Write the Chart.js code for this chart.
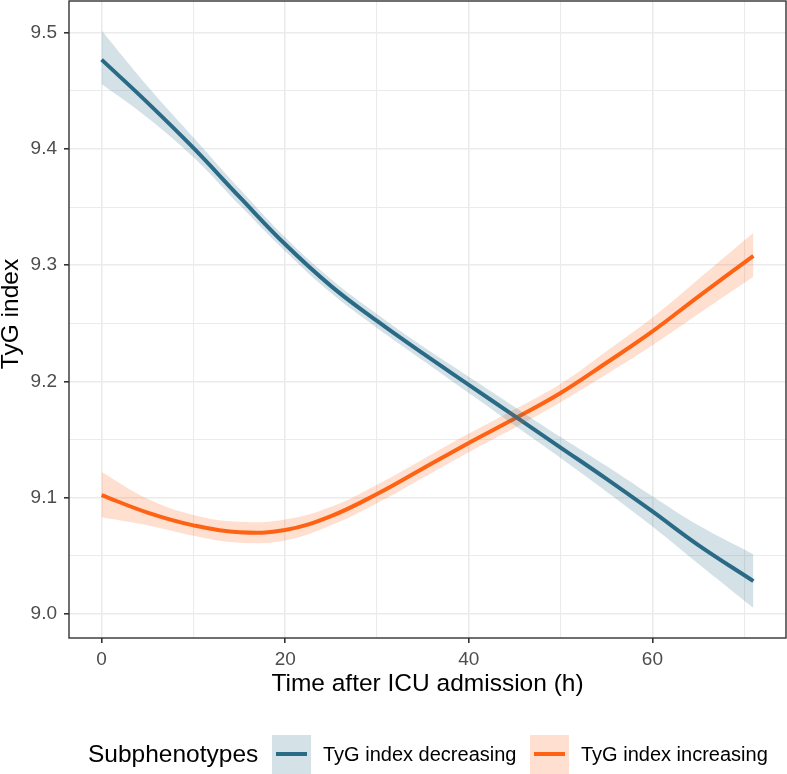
<!DOCTYPE html>
<html>
<head>
<meta charset="utf-8">
<script src="https://cdn.jsdelivr.net/npm/chart.js@4"></script>
<style>
  body { margin: 0; background: #fff; }
  #wrap { width: 787px; height: 774px; }
</style>
</head>
<body>
<div id="wrap"><canvas id="tygChart" width="787" height="774"></canvas></div>
<script>
// data
var hours = [0, 5, 10, 15, 20, 25, 30, 35, 40, 45, 50, 55, 60, 65, 71];

var decFit   = [9.477, 9.440, 9.401, 9.359, 9.318, 9.282, 9.252, 9.224, 9.197, 9.170, 9.143, 9.116, 9.088, 9.059, 9.028];
var decLower = [9.456, 9.427, 9.393, 9.352, 9.312, 9.276, 9.246, 9.218, 9.190, 9.162, 9.134, 9.105, 9.075, 9.043, 9.005];
var decUpper = [9.502, 9.454, 9.410, 9.366, 9.324, 9.288, 9.258, 9.230, 9.204, 9.178, 9.152, 9.127, 9.101, 9.076, 9.051];

var incFit   = [9.102, 9.087, 9.076, 9.070, 9.072, 9.084, 9.103, 9.125, 9.147, 9.168, 9.190, 9.216, 9.243, 9.273, 9.308];
var incLower = [9.083, 9.076, 9.067, 9.061, 9.063, 9.076, 9.095, 9.117, 9.139, 9.160, 9.182, 9.206, 9.231, 9.258, 9.290];
var incUpper = [9.122, 9.099, 9.085, 9.079, 9.081, 9.092, 9.111, 9.133, 9.155, 9.176, 9.198, 9.226, 9.255, 9.288, 9.328];

var xTicks = [0, 10, 20, 30, 40, 50, 60, 70];
var yTicks = [9.0, 9.05, 9.1, 9.15, 9.2, 9.25, 9.3, 9.35, 9.4, 9.45, 9.5];
var xMajor = [0, 20, 40, 60];
var yMajor = [9.0, 9.1, 9.2, 9.3, 9.4, 9.5];

var blue = '#2a6b87';
var orange = '#ff6213';
var blueBand = 'rgba(42,107,135,0.2)';
var orangeBand = 'rgba(255,98,19,0.2)';
var fontFam = '"Liberation Sans", Arial, sans-serif';

function pts(ys) {
    return hours.map(function(h, i){ return {x: h, y: ys[i]}; });
}
function isMajor(list, v) {
    return list.some(function(m){ return Math.abs(m - v) < 1e-6; });
}

var lineOpts = { pointRadius: 0, tension: 0.4 };

var datasets = [
    Object.assign({ label: 'decLower', data: pts(decLower), borderWidth: 0, borderColor: 'transparent', fill: false }, lineOpts),
    Object.assign({ label: 'decUpper', data: pts(decUpper), borderWidth: 0, borderColor: 'transparent', backgroundColor: blueBand, fill: '-1' }, lineOpts),
    Object.assign({ label: 'incLower', data: pts(incLower), borderWidth: 0, borderColor: 'transparent', fill: false }, lineOpts),
    Object.assign({ label: 'incUpper', data: pts(incUpper), borderWidth: 0, borderColor: 'transparent', backgroundColor: orangeBand, fill: '-1' }, lineOpts),
    Object.assign({ label: 'TyG index decreasing', data: pts(decFit), borderWidth: 4, borderColor: blue, fill: false }, lineOpts),
    Object.assign({ label: 'TyG index increasing', data: pts(incFit), borderWidth: 4, borderColor: orange, fill: false }, lineOpts)
];

// panel border, axis titles and the legend row
var decorations = {
    id: 'decorations',
    afterDraw: function(chart) {
        var c = chart.ctx, a = chart.chartArea;
        c.save();
        c.strokeStyle = '#333333';
        c.lineWidth = 1.4;
        c.strokeRect(a.left, a.top, a.right - a.left, a.bottom - a.top);

        c.fillStyle = '#000';
        c.font = '24.5px ' + fontFam;
        c.textAlign = 'center';
        c.textBaseline = 'middle';
        c.fillText('Time after ICU admission (h)', (a.left + a.right) / 2, 684);

        c.save();
        c.translate(11, 314);
        c.rotate(-Math.PI / 2);
        c.fillText('TyG index', 0, 0);
        c.restore();

        c.textAlign = 'left';
        c.fillText('Subphenotypes', 88, 755);

        var keys = [
            { x: 272, band: blueBand, col: blue, text: 'TyG index decreasing' },
            { x: 530, band: orangeBand, col: orange, text: 'TyG index increasing' }
        ];
        keys.forEach(function(k){
            c.fillStyle = k.band;
            c.fillRect(k.x, 735, 39, 40);
            c.strokeStyle = k.col;
            c.lineWidth = 4;
            c.beginPath();
            c.moveTo(k.x + 4, 754);
            c.lineTo(k.x + 35, 754);
            c.stroke();
            c.fillStyle = '#000';
            c.font = '20px ' + fontFam;
            c.fillText(k.text, k.x + 51, 755);
        });
        c.restore();
    }
};

var ctx = document.getElementById('tygChart').getContext('2d');
var tygChart = new Chart(ctx, {
    type: 'line',
    data: { datasets: datasets },
    plugins: [decorations],
    options: {
        responsive: false,
        animation: false,
        layout: { padding: { top: 1, right: 1, left: 0, bottom: 0 } },
        plugins: { legend: { display: false }, tooltip: { enabled: false } },
        scales: {
            x: {
                type: 'linear',
                min: -3.55, max: 74.55,
                afterBuildTicks: function(s){ s.ticks = xTicks.map(function(v){ return {value: v}; }); },
                afterFit: function(s){ s.height = 136; s.paddingLeft = 0; s.paddingRight = 0; },
                border: { display: false },
                grid: {
                    color: '#ebebeb',
                    lineWidth: function(c){ return isMajor(xMajor, c.tick.value) ? 1.6 : 1.1; },
                    tickColor: function(c){ return isMajor(xMajor, c.tick.value) ? '#333333' : 'rgba(0,0,0,0)'; },
                    tickWidth: 1.6,
                    tickLength: 5
                },
                ticks: {
                    color: '#4d4d4d',
                    font: { size: 19, family: fontFam },
                    padding: 5,
                    maxRotation: 0,
                    autoSkip: false,
                    callback: function(v){ return isMajor(xMajor, v) ? String(v) : ''; }
                }
            },
            y: {
                type: 'linear',
                min: 8.979, max: 9.5275,
                afterBuildTicks: function(s){ s.ticks = yTicks.map(function(v){ return {value: v}; }); },
                afterFit: function(s){ s.width = 69; s.paddingTop = 0; s.paddingBottom = 0; },
                border: { display: false },
                grid: {
                    color: '#ebebeb',
                    lineWidth: function(c){ return isMajor(yMajor, c.tick.value) ? 1.6 : 1.1; },
                    tickColor: function(c){ return isMajor(yMajor, c.tick.value) ? '#333333' : 'rgba(0,0,0,0)'; },
                    tickWidth: 1.6,
                    tickLength: 5
                },
                ticks: {
                    color: '#4d4d4d',
                    font: { size: 19, family: fontFam },
                    padding: 7,
                    autoSkip: false,
                    callback: function(v){ return isMajor(yMajor, v) ? v.toFixed(1) : ''; }
                }
            }
        }
    }
});
</script>
</body>
</html>
